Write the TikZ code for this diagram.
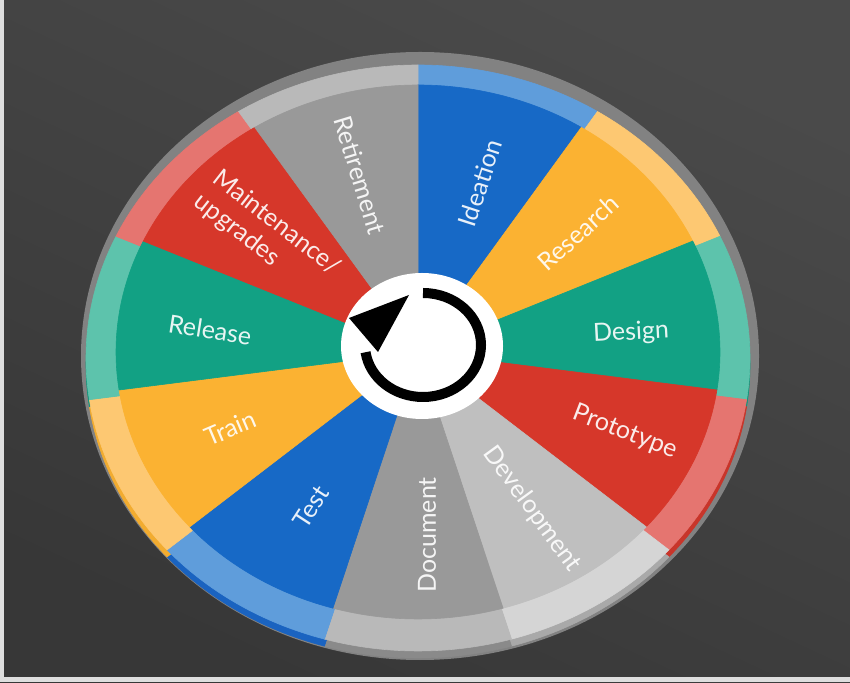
\documentclass[tikz,border=0pt]{standalone}
\usepackage{fontspec}
\setmainfont{Lato}

% segment, rim and side colours
\definecolor{segblue}{HTML}{1769C6}
\definecolor{rimblue}{HTML}{5F9DDB}
\definecolor{sideblue}{HTML}{1A63C0}
\definecolor{segorange}{HTML}{FBB232}
\definecolor{rimorange}{HTML}{FDC872}
\definecolor{sideorange}{HTML}{F2AC30}
\definecolor{segteal}{HTML}{12A184}
\definecolor{rimteal}{HTML}{5DC3AC}
\definecolor{sideteal}{HTML}{10947A}
\definecolor{segred}{HTML}{D6372A}
\definecolor{rimred}{HTML}{E57570}
\definecolor{sidered}{HTML}{C8352A}
\definecolor{seglight}{HTML}{BFBFBF}
\definecolor{rimlight}{HTML}{D5D5D5}
\definecolor{sidelight}{HTML}{A9A9A9}
\definecolor{segdark}{HTML}{999999}
\definecolor{rimdark}{HTML}{B9B9B9}
\definecolor{sidedark}{HTML}{8A8A8A}
\definecolor{edge}{HTML}{828282}
\definecolor{boardtop}{HTML}{4A4A4A}
\definecolor{boardbottom}{HTML}{373737}
\definecolor{frame}{HTML}{DEDEDE}

\tikzset{
  phase/.style={text=white, text opacity=0.9, inner sep=0pt,
    font=\fontsize{25}{30}\selectfont},
}

\begin{document}
\begin{tikzpicture}[x=1pt, y=1pt]
  % Chalkboard background with a light frame at left and bottom
  \shade[top color=boardtop, bottom color=boardbottom, shading angle=-25] (0,0) rectangle (850,682);
  \fill[frame] (0,0) rectangle (4,682);
  \fill[frame] (0,0) rectangle (850,5);

  % Grey outer edge of the wheel
  \fill[edge] (420,326) ellipse [x radius=339, y radius=304];

  % Sides of the disc, showing below the rim
  \foreach \n/\c in {0/blue,1/orange,2/teal,3/red,4/light,5/dark,6/blue,7/orange,8/teal,9/red,10/dark}
    \filldraw[fill=side\c, draw=side\c, line width=0.6] (418,317) -- ++({90-\n*360/11}:332 and 293)
      arc[start angle={90-\n*360/11}, delta angle=-360/11, x radius=332, y radius=293] -- cycle;

  % Light rim
  \foreach \n/\c in {0/blue,1/orange,2/teal,3/red,4/light,5/dark,6/blue,7/orange,8/teal,9/red,10/dark}
    \filldraw[fill=rim\c, draw=rim\c, line width=0.6] (418,324) -- ++({90-\n*360/11}:332 and 293)
      arc[start angle={90-\n*360/11}, delta angle=-360/11, x radius=332, y radius=293] -- cycle;

  % Coloured segments
  \foreach \n/\c in {0/blue,1/orange,2/teal,3/red,4/light,5/dark,6/blue,7/orange,8/teal,9/red,10/dark}
    \filldraw[fill=seg\c, draw=seg\c, line width=0.6] (418,330) -- ++({90-\n*360/11}:302 and 267)
      arc[start angle={90-\n*360/11}, delta angle=-360/11, x radius=302, y radius=267] -- cycle;

  % White hub with the circular arrow
  \fill[white] (422,336) ellipse [x radius=81, y radius=73];
  \draw[line width=10] (423,389) arc[start angle=90, end angle=-172, x radius=58, y radius=52];
  \fill (349,364) -- (409,387) -- (378,330) -- cycle;

  % Phase labels
  \node[phase, rotate=72] (ideation) at (480,499) {Ideation};
  \node[phase, rotate=42] (research) at (578,449) {Research};
  \node[phase, rotate=3] (design) at (631,349) {Design};
  \node[phase, rotate=-21] (prototype) at (625,250) {Prototype};
  \node[phase, rotate=-54] (development) at (532,173) {Development};
  \node[phase, rotate=90] (document) at (427,147) {Document};
  \node[phase, rotate=57] (test) at (311,175) {Test};
  \node[phase, rotate=23] (train) at (230,254) {Train};
  \node[phase, rotate=-9] (release) at (210,352) {Release};
  \node[phase, rotate=-38, align=left] (maintenance) at (267,447) {Maintenance/\\upgrades};
  \node[phase, rotate=-73] (retirement) at (360,507) {Retirement};
\end{tikzpicture}
\end{document}
